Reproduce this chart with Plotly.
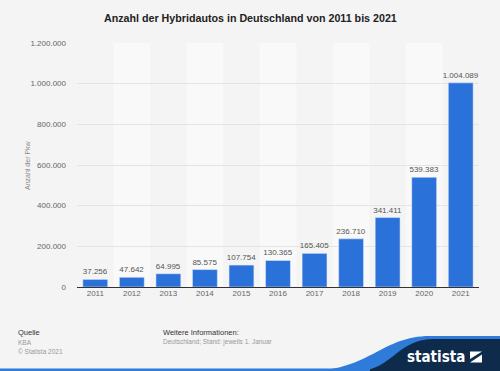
import plotly.graph_objects as go

years = ["2011", "2012", "2013", "2014", "2015", "2016", "2017", "2018", "2019", "2020", "2021"]
values = [37256, 47642, 64995, 85575, 107754, 130365, 165405, 236710, 341411, 539383, 1004089]
y_ticks = [0, 200000, 400000, 600000, 800000, 1000000, 1200000]

W, H = 500, 371
L, R, T, B = 77, 21, 43, 84
PW, PH = W - L - R, H - T - B

def px(x):
    return (x - L) / PW

def py(y):
    return (H - B - y) / PH

BG = "#f4f4f4"
BAR = "#2b71da"
NAVY = "#0f2b4c"
BLUE = "#2f7bd9"
FONT = "Liberation Sans, Arial, sans-serif"

fig = go.Figure()
fig.add_trace(go.Bar(
    x=years, y=values, marker_color=BAR, width=0.68,
    texttemplate="%{y:,d}", textposition="outside", constraintext="none",
    textfont=dict(size=8, color="#555", family=FONT),
    cliponaxis=False, hoverinfo="skip",
))

shapes = []
for i, yr in enumerate(years):
    if i % 2 == 1:
        shapes.append(dict(type="rect", xref="x", yref="y", x0=i - 0.5, x1=i + 0.5,
                           y0=0, y1=y_ticks[-1], fillcolor="#f9f9f9", line_width=0, layer="below"))

# footer logo swoosh
shapes.append(dict(type="path", xref="paper", yref="paper",
                   path=f"M {px(310)},{py(371)} C {px(370)},{py(370)} {px(382)},{py(336)} {px(430)},{py(336)} "
                        f"L {px(500)},{py(336)} L {px(500)},{py(371)} Z",
                   fillcolor=BLUE, line_width=0, layer="above"))
shapes.append(dict(type="path", xref="paper", yref="paper",
                   path=f"M {px(360)},{py(371)} C {px(392)},{py(369)} {px(398)},{py(339)} {px(434)},{py(339)} "
                        f"L {px(500)},{py(339)} L {px(500)},{py(371)} Z",
                   fillcolor=NAVY, line_width=0, layer="above"))
shapes.append(dict(type="rect", xref="paper", yref="paper", x0=px(0), x1=px(370),
                   y0=py(371), y1=py(368.5), fillcolor=BLUE, line_width=0, layer="above"))
# logo icon
shapes.append(dict(type="path", xref="paper", yref="paper",
                   path=f"M {px(470)},{py(351.5)} L {px(482)},{py(351.5)} L {px(470)},{py(359)} Z",
                   fillcolor="white", line_width=0, layer="above"))
shapes.append(dict(type="path", xref="paper", yref="paper",
                   path=f"M {px(482)},{py(354.5)} L {px(482)},{py(362.5)} L {px(470)},{py(362.5)} Z",
                   fillcolor="white", line_width=0, layer="above"))

annotations = [
    dict(text="<b>Anzahl der Hybridautos in Deutschland von 2011 bis 2021</b>", x=px(250), y=py(18),
         xref="paper", yref="paper", showarrow=False, xanchor="center", yanchor="middle",
         font=dict(size=10.7, color="#222", family=FONT)),
    dict(text="Anzahl der Pkw", x=px(27), y=py(165), xref="paper", yref="paper", showarrow=False,
         textangle=-90, xanchor="center", yanchor="middle", font=dict(size=7, color="#888", family=FONT)),
    dict(text="Quelle", x=px(16), y=py(333), xref="paper", yref="paper", showarrow=False,
         xanchor="left", yanchor="middle", font=dict(size=7.5, color="#333", family=FONT)),
    dict(text="KBA", x=px(16), y=py(342), xref="paper", yref="paper", showarrow=False,
         xanchor="left", yanchor="middle", font=dict(size=6.5, color="#999", family=FONT)),
    dict(text="© Statista 2021", x=px(16), y=py(351), xref="paper", yref="paper", showarrow=False,
         xanchor="left", yanchor="middle", font=dict(size=6.5, color="#999", family=FONT)),
    dict(text="Weitere Informationen:", x=px(161), y=py(333), xref="paper", yref="paper", showarrow=False,
         xanchor="left", yanchor="middle", font=dict(size=7.5, color="#333", family=FONT)),
    dict(text="Deutschland; Stand: jeweils 1. Januar", x=px(161), y=py(342), xref="paper", yref="paper",
         showarrow=False, xanchor="left", yanchor="middle", font=dict(size=6.5, color="#999", family=FONT)),
    dict(text="<b>statista</b>", x=px(467), y=py(357), xref="paper", yref="paper", showarrow=False,
         xanchor="right", yanchor="middle", font=dict(size=15, color="white", family="DejaVu Sans Condensed, DejaVu Sans")),
]

fig.update_layout(
    width=W, height=H, margin=dict(l=L, r=R, t=T, b=B),
    paper_bgcolor=BG, plot_bgcolor=BG, showlegend=False,
    separators=",.", bargap=0.32,
    font=dict(family=FONT, size=8, color="#666"),
    shapes=shapes, annotations=annotations,
    xaxis=dict(type="category", showgrid=False, ticks="", tickfont=dict(size=8, color="#666"),
               showline=False, zeroline=False, fixedrange=True),
    yaxis=dict(range=[0, y_ticks[-1]], tickvals=y_ticks, tickformat=",d", showgrid=True,
               gridcolor="#e4e4e4", gridwidth=1, zeroline=True, zerolinecolor="#333", zerolinewidth=1,
               tickfont=dict(size=8, color="#666"), ticks="", ticklabelstandoff=10, showline=False),
)

fig.write_html("out.html", config={"displayModeBar": False},
               post_script="document.body.style.margin='0';document.body.style.background='#f4f4f4';")
